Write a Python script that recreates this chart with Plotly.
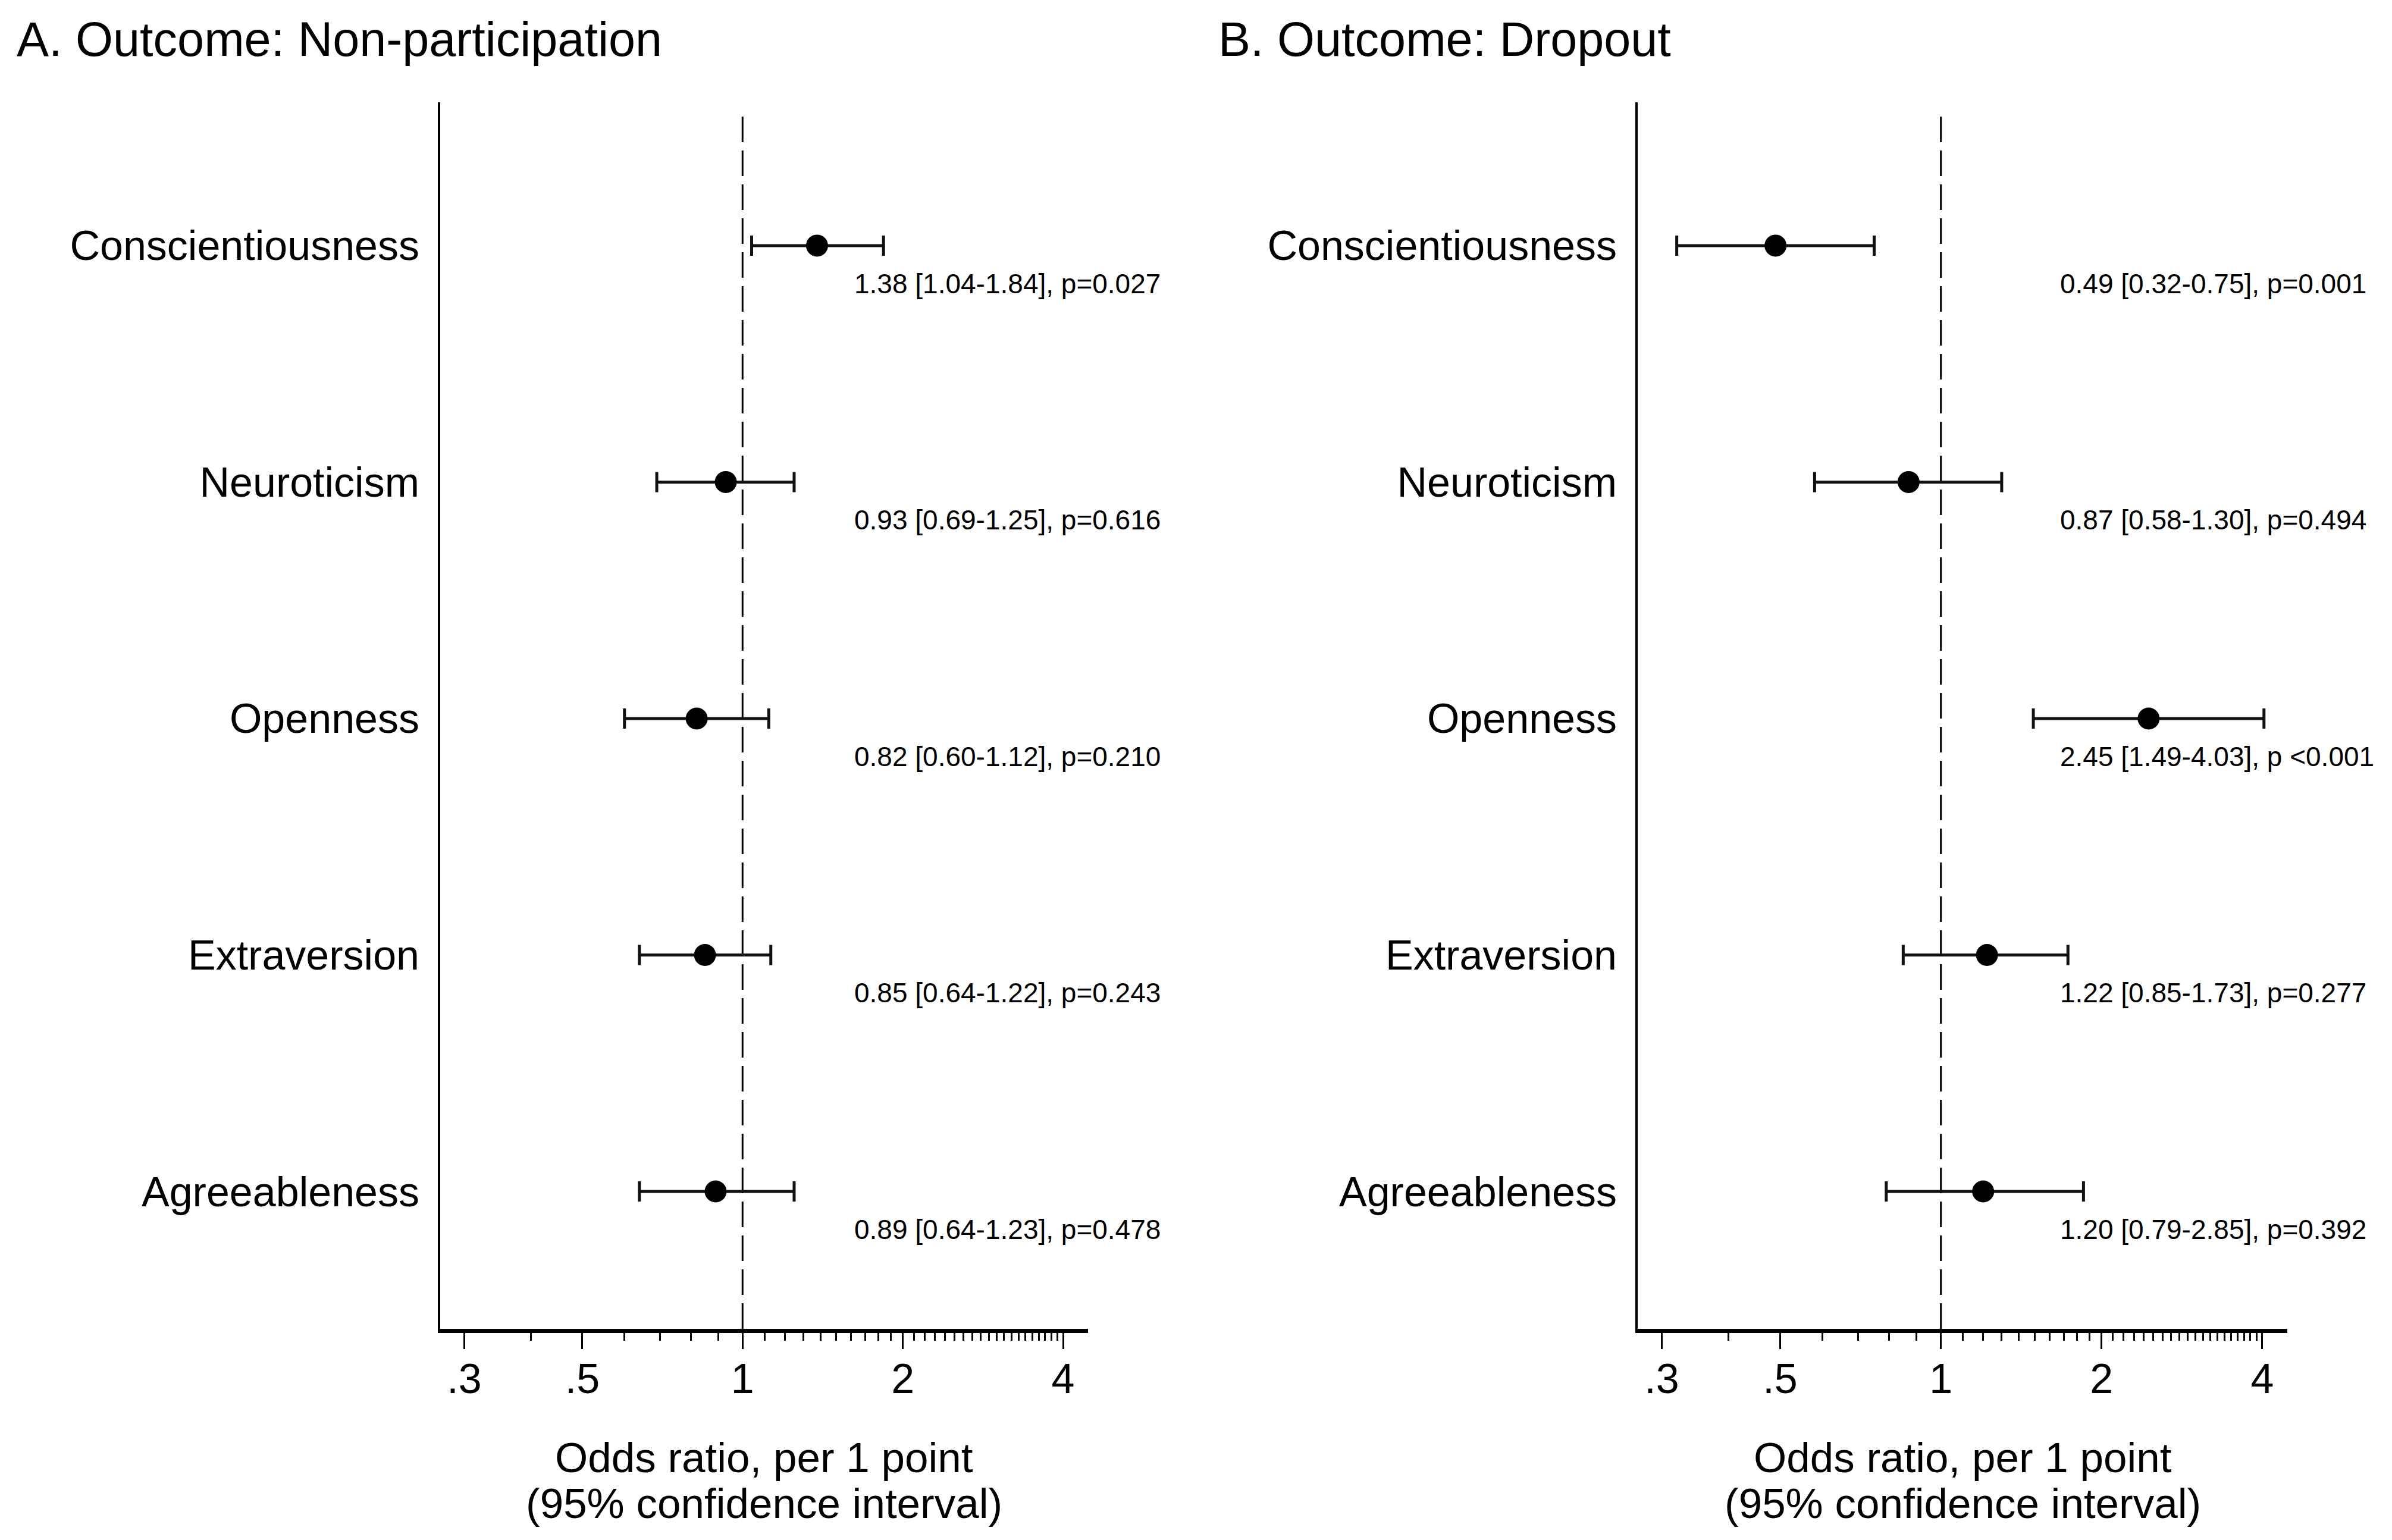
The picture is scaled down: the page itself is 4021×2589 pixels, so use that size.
import plotly.graph_objects as go

# ---------------- data ----------------
CATEGORIES = ["Conscientiousness", "Neuroticism", "Openness", "Extraversion", "Agreeableness"]
ROWS = [1, 2, 3, 4, 5]

A_EST = [1.38, 0.93, 0.82, 0.85, 0.89]
A_LO = [1.04, 0.69, 0.60, 0.64, 0.64]
A_HI = [1.84, 1.25, 1.12, 1.13, 1.25]
A_TEXT = ["1.38 [1.04-1.84], p=0.027",
          "0.93 [0.69-1.25], p=0.616",
          "0.82 [0.60-1.12], p=0.210",
          "0.85 [0.64-1.22], p=0.243",
          "0.89 [0.64-1.23], p=0.478"]

B_EST = [0.49, 0.87, 2.45, 1.22, 1.20]
B_LO = [0.32, 0.58, 1.49, 0.85, 0.79]
B_HI = [0.75, 1.30, 4.03, 1.73, 1.85]
B_TEXT = ["0.49 [0.32-0.75], p=0.001",
          "0.87 [0.58-1.30], p=0.494",
          "2.45 [1.49-4.03], p <0.001",
          "1.22 [0.85-1.73], p=0.277",
          "1.20 [0.79-2.85], p=0.392"]

TICK_VALS = [0.3, 0.5, 1, 2, 4]
TICK_TEXT = [".3", ".5", "1", "2", "4"]
MINOR_TICKS = [0.4, 0.6, 0.7, 0.8, 0.9,
               1.1, 1.2, 1.3, 1.4, 1.5, 1.6, 1.7, 1.8, 1.9,
               2.1, 2.2, 2.3, 2.4, 2.5, 2.6, 2.7, 2.8, 2.9,
               3.0, 3.1, 3.2, 3.3, 3.4, 3.5, 3.6, 3.7, 3.8, 3.9]

PANEL_TITLES = ["A. Outcome: Non-participation", "B. Outcome: Dropout"]
XTITLE_1 = "Odds ratio, per 1 point"
XTITLE_2 = "(95% confidence interval)"

# ---------------- style ----------------
FONT = "Arial, 'Liberation Sans', sans-serif"
W, H = 4021, 2589
X_DOMAINS = [[732 / W, 1821 / W], [2745 / W, 3837 / W]]
Y_DOMAIN = [1 - 2226 / H, 1 - 164 / H]
X_RANGE = [-0.568, 0.649]
Y_RANGE = [5.581, 0.394]
TEXT_X = [0.637, 0.648]
TEXT_DY = 0.16

fig = go.Figure()

panels = [(A_EST, A_LO, A_HI, A_TEXT), (B_EST, B_LO, B_HI, B_TEXT)]
for i, (est, lo, hi, txt) in enumerate(panels):
    xa = "x" if i == 0 else "x2"
    ya = "y" if i == 0 else "y2"
    fig.add_trace(go.Scatter(
        x=est, y=ROWS, mode="markers",
        marker=dict(size=37, color="black", symbol="circle"),
        error_x=dict(type="data", symmetric=False,
                     array=[h - e for h, e in zip(hi, est)],
                     arrayminus=[e - l for e, l in zip(est, lo)],
                     color="#111111", thickness=5, width=17),
        xaxis=xa, yaxis=ya, showlegend=False, hoverinfo="skip"))

    # reference line at OR = 1
    fig.add_shape(type="line", xref=xa, yref=f"{ya} domain",
                  x0=1, x1=1, y0=0, y1=0.991, layer="below",
                  line=dict(color="black", width=3, dash="43px,14px"))

    for r, t in zip(ROWS, txt):
        fig.add_annotation(text=t, xref=f"{xa} domain", yref=ya,
                           x=TEXT_X[i], y=r + TEXT_DY, xanchor="left", yanchor="middle",
                           showarrow=False, font=dict(family=FONT, size=46, color="black"))

    # panel titles
    fig.add_annotation(text=PANEL_TITLES[i], xref="paper", yref="paper",
                       x=(18 if i == 0 else 2038) / W, y=1 - 58 / H,
                       xanchor="left", yanchor="middle", showarrow=False,
                       font=dict(family=FONT, size=81, color="black"))
    # x axis titles
    fig.add_annotation(text=XTITLE_1, xref=f"{xa} domain", yref="paper",
                       x=0.5, y=1 - 2442 / H, xanchor="center", yanchor="middle",
                       showarrow=False, font=dict(family=FONT, size=71, color="black"))
    fig.add_annotation(text=XTITLE_2, xref=f"{xa} domain", yref="paper",
                       x=0.5, y=1 - 2519 / H, xanchor="center", yanchor="middle",
                       showarrow=False, font=dict(family=FONT, size=71, color="black"))

xaxis_common = dict(type="log", range=X_RANGE, tickmode="array",
                    tickvals=TICK_VALS, ticktext=TICK_TEXT,
                    ticks="outside", ticklen=27, tickwidth=3, tickcolor="black",
                    showline=True, linewidth=7, linecolor="black",
                    showgrid=False, zeroline=False, ticklabelstandoff=-10,
                    tickfont=dict(family=FONT, size=70, color="black"),
                    minor=dict(tickmode="array", tickvals=MINOR_TICKS, ticks="outside",
                               ticklen=13, tickwidth=3, tickcolor="black", showgrid=False))
yaxis_common = dict(range=Y_RANGE, tickmode="array", tickvals=ROWS, ticktext=CATEGORIES,
                    ticks="", showline=True, linewidth=4, linecolor="black",
                    showgrid=False, zeroline=False, ticklabelstandoff=17,
                    tickfont=dict(family=FONT, size=70, color="black"))

fig.update_layout(
    width=W, height=H,
    margin=dict(l=0, r=0, t=0, b=0),
    paper_bgcolor="white", plot_bgcolor="white",
    showlegend=False,
    xaxis=dict(domain=X_DOMAINS[0], anchor="y", **xaxis_common),
    xaxis2=dict(domain=X_DOMAINS[1], anchor="y2", **xaxis_common),
    yaxis=dict(domain=Y_DOMAIN, anchor="x", **yaxis_common),
    yaxis2=dict(domain=Y_DOMAIN, anchor="x2", **yaxis_common),
)

fig.write_html("out.html")
